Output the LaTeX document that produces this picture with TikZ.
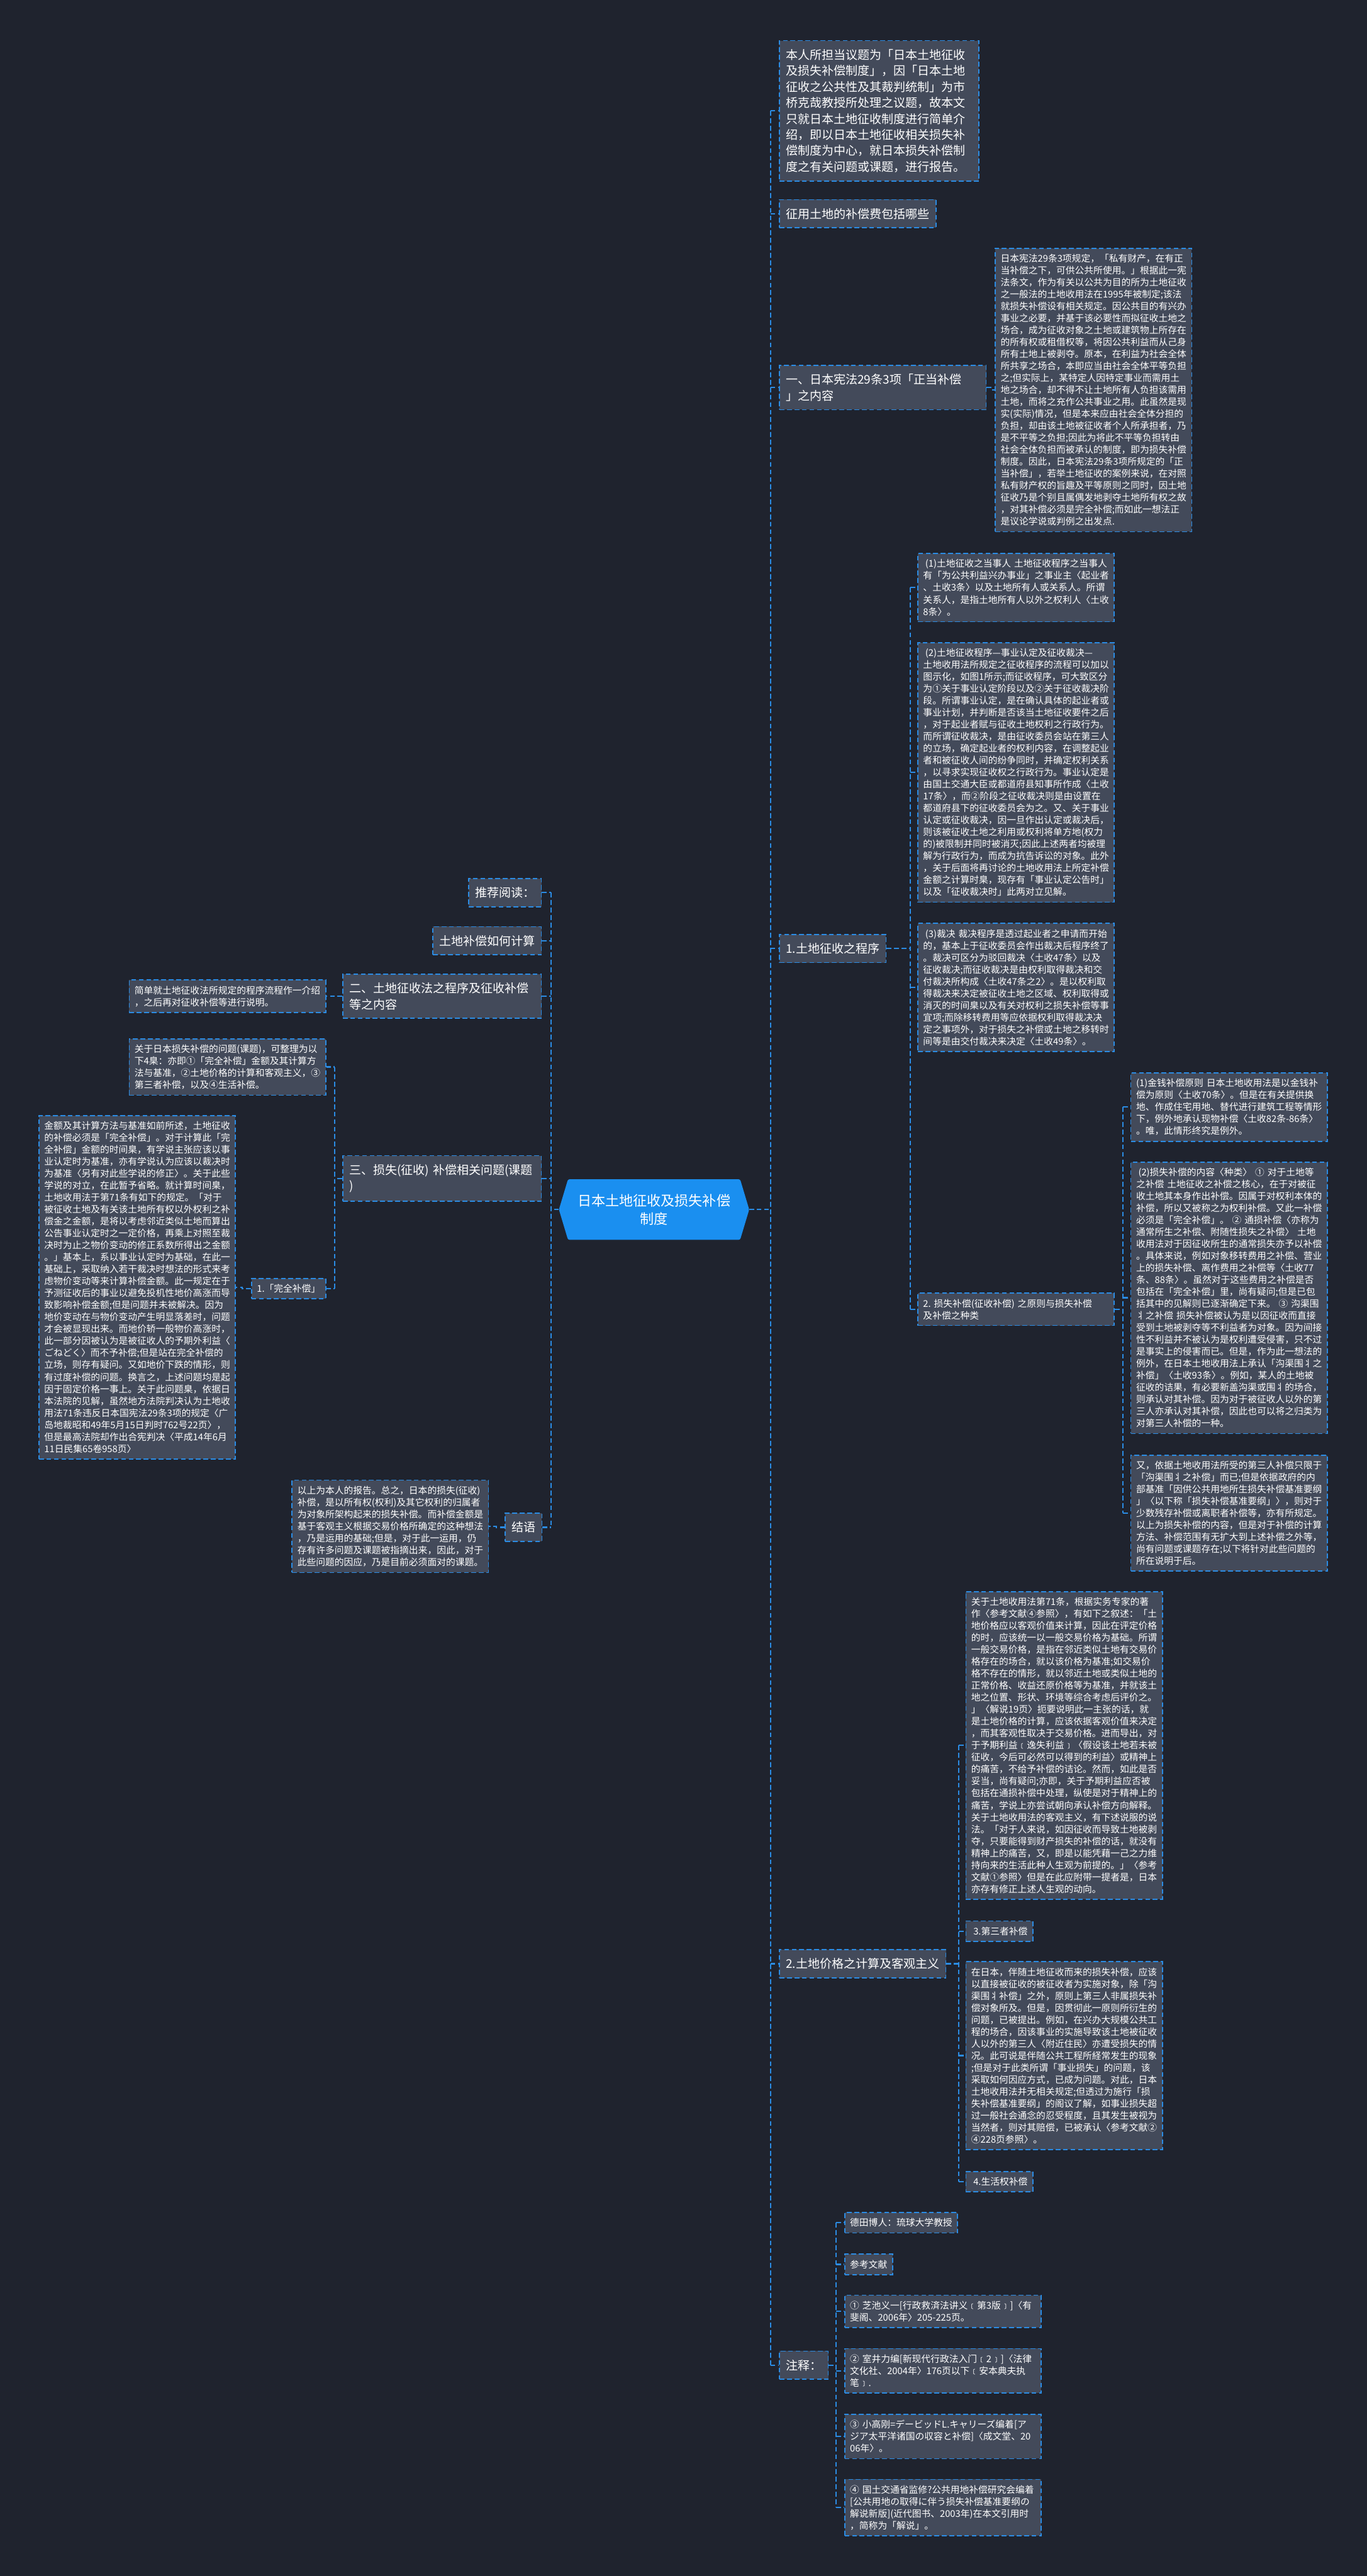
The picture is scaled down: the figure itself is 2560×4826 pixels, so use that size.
\documentclass[tikz,border=0pt]{standalone}
\usepackage{fontspec}
\setmainfont{Noto Sans CJK SC}
\usetikzlibrary{calc}
\hyphenpenalty=10000
\exhyphenpenalty=10000
\definecolor{bgc}{HTML}{1F232E}
\definecolor{boxfill}{HTML}{434A5A}
\definecolor{edgec}{HTML}{2B8CE4}
\definecolor{rootblue}{HTML}{1A8FF0}
\tikzset{
  box/.style={draw=edgec, fill=boxfill, line width=2pt, dash pattern=on 9pt off 5pt, text=white, align=left, inner xsep=10pt, inner ysep=11pt, font=\fontsize{17.4}{22.4}\selectfont},
  wbox/.style={box, text width=348pt},
  lbl/.style={box, inner xsep=12pt, inner ysep=16pt, font=\fontsize{22.4}{30}\selectfont},
  conn/.style={draw=edgec, line width=2.5pt, dash pattern=on 9pt off 5pt},
}
\begin{document}
\begin{tikzpicture}[x=1pt,y=-1pt]
\fill[bgc] (0,0) rectangle (2560,4826);
\useasboundingbox (0,0) rectangle (2560,4826);

% ---------- root ----------
\node[minimum width=356pt, minimum height=113pt, inner sep=0pt] (rootbox) at (1225,2266) {};
\fill[rootblue, rounded corners=3pt] ($(rootbox.north west)+(17,0)$) -- ($(rootbox.north east)+(-17,0)$) -- (rootbox.east) -- ($(rootbox.south east)+(-17,0)$) -- ($(rootbox.south west)+(17,0)$) -- (rootbox.west) -- cycle;
\node[text=white, align=center, font=\fontsize{26}{34}\selectfont] (roottext) at (rootbox) {日本土地征收及损失补偿\\制度};

% ---------- right side ----------
\node[lbl, text width=349pt, anchor=north west] (intro) at (1459,75) {本人所担当议题为「日本土地征收\\及损失补偿制度」，因「日本土地\\征收之公共性及其裁判统制」为市\\桥克哉教授所处理之议题，故本文\\只就日本土地征收制度进行简单介\\绍，即以日本土地征收相关损失补\\偿制度为中心，就日本损失补偿制\\度之有关问题或课题，进行报告。};
\node[lbl, anchor=north west] (zy) at (1459,373) {征用土地的补偿费包括哪些};
\node[lbl, text width=363pt, anchor=west] (xianfa) at (1459,726) {一、日本宪法29条3项「正当补偿\\」之内容};
\node[wbox, anchor=north west] (const) at (1863,464) {日本宪法29条3项规定，「私有财产，在有正\\当补偿之下，可供公共所使用。」根据此一宪\\法条文，作为有关以公共为目的所为土地征收\\之一般法的土地收用法在1995年被制定;该法\\就损失补偿设有相关规定。因公共目的有兴办\\事业之必要，并基于该必要性而拟征收土地之\\场合，成为征收对象之土地或建筑物上所存在\\的所有权或租借权等，将因公共利益而从己身\\所有土地上被剥夺。原本，在利益为社会全体\\所共享之场合，本即应当由社会全体平等负担\\之;但实际上，某特定人因特定事业而需用土\\地之场合，却不得不让土地所有人负担该需用\\土地，而将之充作公共事业之用。此虽然是现\\实(实际)情况，但是本来应由社会全体分担的\\负担，却由该土地被征收者个人所承担者，乃\\是不平等之负担;因此为将此不平等负担转由\\社会全体负担而被承认的制度，即为损失补偿\\制度。因此，日本宪法29条3项所规定的「正\\当补偿」，若举土地征收的案例来说，在对照\\私有财产权的旨趣及平等原则之同时，因土地\\征收乃是个别且属偶发地剥夺土地所有权之故\\，对其补偿必须是完全补偿;而如此一想法正\\是议论学说或判例之出发点.};

\node[lbl, anchor=west] (chengxu) at (1459,1777) {1.土地征收之程序};
\node[wbox, anchor=north west] (c1) at (1718,1036) {\hspace*{4pt}(1)土地征收之当事人~土地征收程序之当事人\\有「为公共利益兴办事业」之事业主〈起业者\\、土收3条〉以及土地所有人或关系人。所谓\\关系人，是指土地所有人以外之权利人〈土收\\8条〉。};
\node[wbox, anchor=north west] (c2) at (1718,1203) {\hspace*{4pt}(2)土地征收程序—事业认定及征收裁决—\\土地收用法所规定之征收程序的流程可以加以\\图示化，如图1所示;而征收程序，可大致区分\\为①关于事业认定阶段以及②关于征收裁决阶\\段。所谓事业认定，是在确认具体的起业者或\\事业计划，并判断是否该当土地征收要件之后\\，对于起业者赋与征收土地权利之行政行为。\\而所谓征收裁决，是由征收委员会站在第三人\\的立场，确定起业者的权利内容，在调整起业\\者和被征收人间的纷争同时，并确定权利关系\\，以寻求实现征收权之行政行为。事业认定是\\由国土交通大臣或都道府县知事所作成〈土收\\17条〉，而②阶段之征收裁决则是由设置在\\都道府县下的征收委员会为之。又、关于事业\\认定或征收裁决，因一旦作出认定或裁决后，\\则该被征收土地之利用或权利将单方地(权力\\的)被限制并同时被消灭;因此上述两者均被理\\解为行政行为，而成为抗告诉讼的对象。此外\\，关于后面将再讨论的土地收用法上所定补偿\\金额之计算时臬，现存有「事业认定公告时」\\以及「征收裁决时」此两对立见解。};
\node[wbox, anchor=north west] (c3) at (1718,1729) {\hspace*{4pt}(3)裁决~裁决程序是透过起业者之申请而开始\\的，基本上于征收委员会作出裁决后程序终了\\。裁决可区分为驳回裁决〈土收47条〉以及\\征收裁决;而征收裁决是由权利取得裁决和交\\付裁决所构成〈土收47条之2〉。是以权利取\\得裁决来决定被征收土地之区域、权利取得或\\消灭的时间臬以及有关对权利之损失补偿等事\\宜项;而除移转费用等应依据权利取得裁决决\\定之事项外，对于损失之补偿或土地之移转时\\间等是由交付裁决来决定〈土收49条〉。};
\node[wbox, anchor=west] (sunshi) at (1718,2453) {2.~损失补偿(征收补偿)~之原则与损失补偿\\及补偿之种类};

\node[wbox, anchor=north west] (jinqian) at (2117,2009) {(1)金钱补偿原则~日本土地收用法是以金钱补\\偿为原则〈土收70条〉。但是在有关提供换\\地、作成住宅用地、替代进行建筑工程等情形\\下，例外地承认现物补偿〈土收82条-86条〉\\。唯，此情形终究是例外。};
\node[wbox, anchor=north west] (neirong) at (2117,2176) {\hspace*{4pt}(2)损失补偿的内容〈种类〉~①~对于土地等\\之补偿~土地征收之补偿之核心，在于对被征\\收土地其本身作出补偿。因属于对权利本体的\\补偿，所以又被称之为权利补偿。又此一补偿\\必须是「完全补偿」。~②~通损补偿〈亦称为\\通常所生之补偿、附随性损失之补偿〉~土地\\收用法对于因征收所生的通常损失亦予以补偿\\。具体来说，例如对象移转费用之补偿、营业\\上的损失补偿、离作费用之补偿等〈土收77\\条、88条〉。虽然对于这些费用之补偿是否\\包括在「完全补偿」里，尚有疑问;但是已包\\括其中的见解则已逐渐确定下来。~③~沟渠围\\丬之补偿~损失补偿被认为是以因征收而直接\\受到土地被剥夺等不利益者为对象。因为间接\\性不利益并不被认为是权利遭受侵害，只不过\\是事实上的侵害而已。但是，作为此一想法的\\例外，在日本土地收用法上承认「沟渠围丬之\\补偿」〈土收93条〉。例如，某人的土地被\\征收的诘果，有必要新盖沟渠或围丬的场合，\\则承认对其补偿。因为对于被征收人以外的第\\三人亦承认对其补偿，因此也可以将之归类为\\对第三人补偿的一种。};
\node[wbox, anchor=north west] (you) at (2117,2725) {又，依据土地收用法所受的第三人补偿只限于\\「沟渠围丬之补偿」而已;但是依据政府的内\\部基准「因供公共用地所生损失补偿基准要纲\\」〈以下称「损失补偿基准要纲」〉，则对于\\少数残存补偿或离职者补偿等，亦有所规定。\\以上为损失补偿的内容，但是对于补偿的计算\\方法、补偿范围有无扩大到上述补偿之外等，\\尚有问题或课题存在;以下将针对此些问题的\\所在说明于后。};

\node[lbl, anchor=west] (jiage) at (1459,3679) {2.土地价格之计算及客观主义};
\node[wbox, anchor=north west] (guanyu) at (1808,2981) {关于土地收用法第71条，根据实务专家的著\\作〈参考文献④参照〉，有如下之叙述：「土\\地价格应以客观价值来计算，因此在评定价格\\的时，应该统一以一般交易价格为基础。所谓\\一般交易价格，是指在邻近类似土地有交易价\\格存在的场合，就以该价格为基准;如交易价\\格不存在的情形，就以邻近土地或类似土地的\\正常价格、收益还原价格等为基准，并就该土\\地之位置、形状、环境等综合考虑后评价之。\\」〈解说19页〉扼要说明此一主张的话，就\\是土地价格的计算，应该依据客观价值来决定\\，而其客观性取决于交易价格。进而导出，对\\于予期利益﹝逸失利益﹞〈假设该土地若未被\\征收，今后可必然可以得到的利益〉或精神上\\的痛苦，不给予补偿的诘论。然而，如此是否\\妥当，尚有疑问;亦即，关于予期利益应否被\\包括在通损补偿中处理，纵使是对于精神上的\\痛苦，学说上亦尝试朝向承认补偿方向解释。\\关于土地收用法的客观主义，有下述说服的说\\法。「对于人来说，如因征收而导致土地被剥\\夺，只要能得到财产损失的补偿的话，就没有\\精神上的痛苦，又，即是以能凭藉一己之力维\\持向来的生活此种人生观为前提的。」〈参考\\文献①参照〉但是在此应附带一提者是，日本\\亦存有修正上述人生观的动向。};
\node[box, anchor=north west] (disan) at (1808,3598) {\hspace*{4pt}3.第三者补偿};
\node[wbox, anchor=north west] (zairiben) at (1808,3674) {在日本，伴随土地征收而来的损失补偿，应该\\以直接被征收的被征收者为实施对象，除「沟\\渠围丬补偿」之外，原则上第三人非属损失补\\偿对象所及。但是，因贯彻此一原则所衍生的\\问题，已被提出。例如，在兴办大规模公共工\\程的场合，因该事业的实施导致该土地被征收\\人以外的第三人〈附近住民〉亦遭受损失的情\\况。此可说是伴随公共工程所経常发生的现象\\;但是对于此类所谓「事业损失」的问题，该\\采取如何因应方式，已成为问题。对此，日本\\土地收用法并无相关规定;但透过为施行「损\\失补偿基准要纲」的阁议了解，如事业损失超\\过一般社会通念的忍受程度，且其发生被视为\\当然者，则对其赔偿，已被承认〈参考文献②\\④228页参照〉。};
\node[box, anchor=north west] (shenghuo) at (1808,4067) {\hspace*{4pt}4.生活权补偿};

\node[lbl, anchor=west] (notes) at (1459,4431) {注释：};
\node[box, anchor=north west] (detian) at (1581,4144) {德田博人：琉球大学教授};
\node[box, anchor=north west] (cankao) at (1581,4222) {参考文献};
\node[wbox, anchor=north west] (r1) at (1581,4299) {①~芝池义一[行政救済法讲义﹝第3版﹞]〈有\\斐阁、2006年〉205-225页。};
\node[wbox, anchor=north west] (r2) at (1581,4399) {②~室井力编[新现代行政法入门﹝2﹞]〈法律\\文化社、2004年〉176页以下﹝安本典夫执\\笔﹞.};
\node[wbox, anchor=north west] (r3) at (1581,4522) {③~小高刚=デービッドL.キャリーズ编着[ア\\ジア太平洋诸国の収容と补偿]〈成文堂、20\\06年〉。};
\node[wbox, anchor=north west] (r4) at (1581,4644) {④~国土交通省监修?公共用地补偿研究会编着\\{}[公共用地の取得に伴う损失补偿基准要纲の\\解说新版](近代图书、2003年)在本文引用时\\，简称为「解说」。};

% ---------- left side ----------
\node[lbl, anchor=north east] (tuijian) at (1015,1645) {推荐阅读：};
\node[lbl, anchor=north east] (jisuan) at (1015,1735) {土地补偿如何计算};
\node[lbl, text width=348pt, anchor=north east] (er) at (1015,1824) {二、土地征收法之程序及征收补偿\\等之内容};
\node[wbox, anchor=north east] (jiandan) at (611,1835) {简单就土地征收法所规定的程序流程作一介绍\\，之后再对征收补偿等进行说明。};
\node[lbl, text width=348pt, anchor=north east] (san) at (1015,2164) {三、损失(征收)~补偿相关问题(课题\\)};
\node[wbox, anchor=north east] (guanyu2) at (611,1945) {关于日本损失补偿的问题(课题)，可整理为以\\下4臬：亦即①「完全补偿」金额及其计算方\\法与基准，②土地价格的计算和客观主义，③\\第三者补偿，以及④生活补偿。};
\node[box, anchor=north east] (wanquan) at (611,2394) {1.「完全补偿」};
\node[wbox, anchor=north east] (bigleft) at (442,2089) {金额及其计算方法与基准如前所述，土地征收\\的补偿必须是「完全补偿」。对于计算此「完\\全补偿」金额的时间臬，有学说主张应该以事\\业认定时为基准，亦有学说认为应该以裁决时\\为基准〈另有对此些学说的修正〉。关于此些\\学说的对立，在此暂予省略。就计算时间臬，\\土地收用法于第71条有如下的规定。「对于\\被征收土地及有关该土地所有权以外权利之补\\偿金之金额，是将以考虑邻近类似土地而算出\\公告事业认定时之一定价格，再乘上对照至裁\\决时为止之物价变动的修正系数所得出之金额\\。」基本上，系以事业认定时为基础，在此一\\基础上，采取纳入若干裁决时想法的形式来考\\虑物价变动等来计算补偿金额。此一规定在于\\予测征收后的事业以避免投机性地价高涨而导\\致影响补偿金额;但是问题并未被解决。因为\\地价变动在与物价变动产生明显落差时，问题\\才会被显现出来。而地价轿一般物价高涨时，\\此一部分因被认为是被征收人的予期外利益〈\\ごねどく〉而不予补偿;但是站在完全补偿的\\立场，则存有疑问。又如地价下跌的情形，则\\有过度补偿的问题。换言之，上述问题均是起\\因于固定价格一事上。关于此问题臬，依据日\\本法院的见解，虽然地方法院判决认为土地收\\用法71条违反日本国宪法29条3项的规定〈广\\岛地裁昭和49年5月15日判时762号22页〉，\\但是最高法院却作出合宪判决〈平成14年6月\\11日民集65卷958页〉};
\node[lbl, anchor=north east] (jieyu) at (1016,2834) {结语};
\node[wbox, anchor=north east] (jieyutext) at (916,2772) {以上为本人的报告。总之，日本的损失(征收)\\补偿，是以所有权(权利)及其它权利的归属者\\为对象所架构起来的损失补偿。而补偿金额是\\基于客观主义根据交易价格所确定的这种想法\\，乃是运用的基础;但是，对于此一运用，仍\\存有许多问题及课题被指摘出来，因此，对于\\此些问题的因应，乃是目前必须面对的课题。};

% ---------- connectors ----------
\coordinate (TR) at (1443,0);
\coordinate (TL) at (1032,0);
\coordinate (BC) at (1705,0);
\coordinate (BS) at (2103,0);
\coordinate (BJ) at (1796,0);
\coordinate (BN) at (1566,0);
\coordinate (BL) at (627,0);

\draw[conn] (TR |- intro.west) -- (TR |- notes.west);
\draw[conn] (rootbox.east) -- (TR |- rootbox.east);
\foreach \n in {intro,zy,xianfa,chengxu,jiage,notes} \draw[conn] (TR |- \n.west) -- (\n.west);

\draw[conn] (TL |- tuijian.east) -- (TL |- jieyu.east);
\draw[conn] (rootbox.west) -- (TL |- rootbox.west);
\foreach \n in {tuijian,jisuan,er,san,jieyu} \draw[conn] (\n.east) -- (TL |- \n.east);

\draw[conn] (xianfa.east) -- ++(8,0) |- (const.west);

\draw[conn] (chengxu.east) -- (BC |- chengxu.east);
\draw[conn] (BC |- c1.west) -- (BC |- sunshi.west);
\foreach \n in {c1,c2,c3,sunshi} \draw[conn] (BC |- \n.west) -- (\n.west);

\draw[conn] (sunshi.east) -- (BS |- sunshi.east);
\draw[conn] (BS |- jinqian.west) -- (BS |- you.west);
\foreach \n in {jinqian,neirong,you} \draw[conn] (BS |- \n.west) -- (\n.west);

\draw[conn] (jiage.east) -- (BJ |- jiage.east);
\draw[conn] (BJ |- guanyu.west) -- (BJ |- shenghuo.west);
\foreach \n in {guanyu,disan,zairiben,shenghuo} \draw[conn] (BJ |- \n.west) -- (\n.west);

\draw[conn] (notes.east) -- (BN |- notes.east);
\draw[conn] (BN |- detian.west) -- (BN |- r4.west);
\foreach \n in {detian,cankao,r1,r2,r3,r4} \draw[conn] (BN |- \n.west) -- (\n.west);

\draw[conn] (er.west) -- ++(-16,0) |- (jiandan.east);
\draw[conn] (san.west) -- (BL |- san.west);
\draw[conn] (BL |- guanyu2.east) -- (BL |- wanquan.east);
\foreach \n in {guanyu2,wanquan} \draw[conn] (\n.east) -- (BL |- \n.east);
\draw[conn] (wanquan.west) -- ++(-16,0) |- (bigleft.east);
\draw[conn] (jieyu.west) -- ++(-16,0) |- (jieyutext.east);
\end{tikzpicture}
\end{document}
